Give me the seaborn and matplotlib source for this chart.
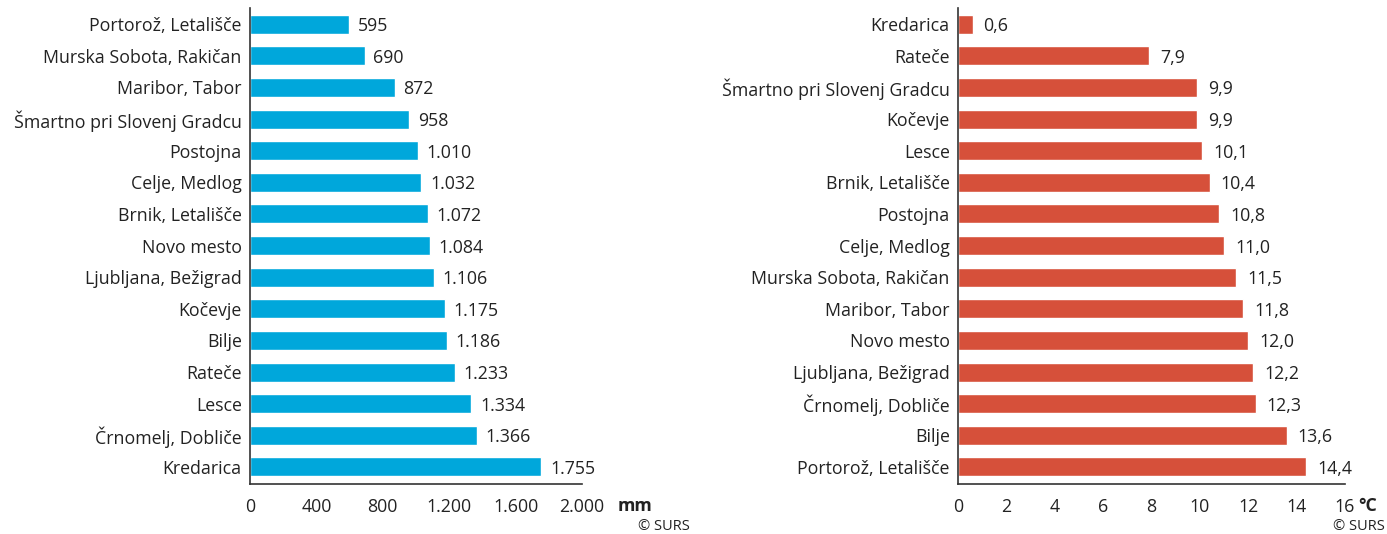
import matplotlib
matplotlib.use("Agg")
import matplotlib.pyplot as plt
import seaborn as sns
import pandas as pd

sns.set_theme(style="white")
plt.rcParams['font.family'] = ['Open Sans', 'DejaVu Sans']

precip_stations = ["Portorož, Letališče", "Murska Sobota, Rakičan", "Maribor, Tabor",
                   "Šmartno pri Slovenj Gradcu", "Postojna", "Celje, Medlog",
                   "Brnik, Letališče", "Novo mesto", "Ljubljana, Bežigrad", "Kočevje",
                   "Bilje", "Rateče", "Lesce", "Črnomelj, Dobliče", "Kredarica"]
precip_mm = [595, 690, 872, 958, 1010, 1032, 1072, 1084, 1106, 1175, 1186, 1233, 1334, 1366, 1755]

temp_stations = ["Kredarica", "Rateče", "Šmartno pri Slovenj Gradcu", "Kočevje", "Lesce",
                 "Brnik, Letališče", "Postojna", "Celje, Medlog", "Murska Sobota, Rakičan",
                 "Maribor, Tabor", "Novo mesto", "Ljubljana, Bežigrad", "Črnomelj, Dobliče",
                 "Bilje", "Portorož, Letališče"]
temp_c = [0.6, 7.9, 9.9, 9.9, 10.1, 10.4, 10.8, 11.0, 11.5, 11.8, 12.0, 12.2, 12.3, 13.6, 14.4]

precip_ticks = [0, 400, 800, 1200, 1600, 2000]
temp_ticks = [0, 2, 4, 6, 8, 10, 12, 14, 16]

BLUE = "#00a7db"
RED = "#d6503a"
AXC = "#333333"
TXT = "#222222"
FS = 12.8

fig = plt.figure(figsize=(13.87, 5.34), dpi=100)
ax1 = fig.add_axes([250/1387, 50/534, 332/1387, 476/534])
ax2 = fig.add_axes([958/1387, 50/534, 387/1387, 476/534])

def fmt_thousands(v):
    return f"{int(v):,}".replace(",", ".")

def fmt_dec(v):
    return f"{v:.1f}".replace(".", ",")

def draw(ax, names, vals, color, ticks, tick_labels, lab_fmt, offset):
    df = pd.DataFrame({"station": names, "value": vals})
    sns.barplot(data=df, x="value", y="station", orient="h", color=color,
                saturation=1, width=0.6, ax=ax, order=names)
    ax.set_ylim(14.54, -0.51)
    ax.set_xlim(ticks[0], ticks[-1])
    ax.set_xticks(ticks)
    ax.set_xticklabels(tick_labels, fontsize=FS, color=TXT)
    ax.set_xlabel("")
    ax.set_ylabel("")
    ax.tick_params(axis="y", length=0, pad=6, labelsize=FS, labelcolor=TXT)
    ax.tick_params(axis="x", direction="out", length=5, width=1, color=AXC, pad=5)
    for s in ["top", "right"]:
        ax.spines[s].set_visible(False)
    for s in ["left", "bottom"]:
        ax.spines[s].set_color(AXC)
        ax.spines[s].set_linewidth(1.2)
    ax.set_facecolor("white")
    for i, v in enumerate(vals):
        ax.text(v + offset, i, lab_fmt(v), va="center_baseline", ha="left", fontsize=FS, color=TXT)

draw(ax1, precip_stations, precip_mm, BLUE, precip_ticks,
     [fmt_thousands(t) for t in precip_ticks], fmt_thousands, 52)
draw(ax2, temp_stations, temp_c, RED, temp_ticks,
     [str(t) for t in temp_ticks], fmt_dec, 0.45)

fig.text(618/1387, 1 - 504/534, "mm", fontsize=FS, fontweight="bold", color=TXT, va="center_baseline", ha="left")
fig.text(1358/1387, 1 - 504/534, "°C", fontsize=FS, fontweight="bold", color=TXT, va="center_baseline", ha="left")
fig.text(690/1387, 1 - 527/534, "© SURS", fontsize=10.5, color=TXT, va="center", ha="right")
fig.text(1385/1387, 1 - 527/534, "© SURS", fontsize=10.5, color=TXT, va="center", ha="right")

fig.savefig("out.png", dpi=100, facecolor="white")
